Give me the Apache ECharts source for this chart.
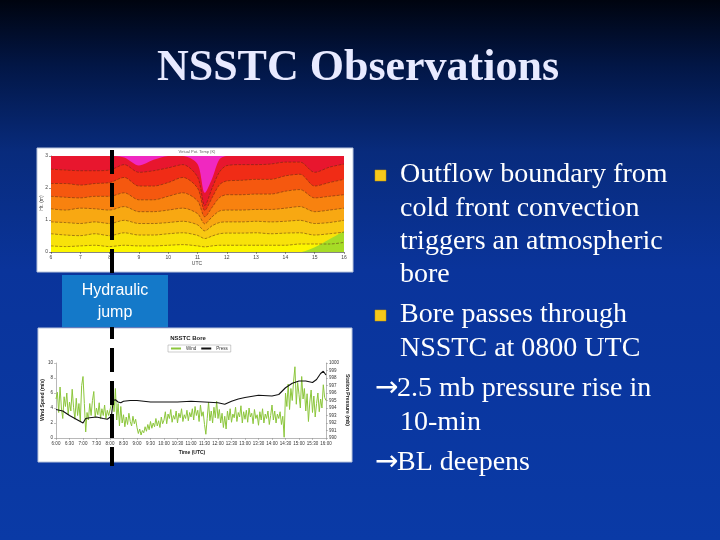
<!DOCTYPE html>
<html><head><meta charset="utf-8">
<script src="https://cdn.jsdelivr.net/npm/echarts@6/dist/echarts.min.js"></script>
<style>html,body{margin:0;padding:0;background:#0a2f85}#c{width:720px;height:540px}</style>
</head><body><div id="c"></div>
<script>
// ---------- Top panel: height-time contour (band boundaries, km) ----------
const contourHours = [6,6.5,7,7.5,8,8.5,9,9.5,10,10.5,11,11.25,11.5,11.75,12,12.5,13,13.5,14,14.5,15,15.5,16];
const contour0 = [3,3,3,3,3,2.95,2.7,2.88,3,3,2.75,1.85,2.3,2.9,3,3,3,3,3,3,3,3,3];
const contour1 = [2.59,2.56,2.54,2.54,2.56,2.73,2.49,2.54,2.63,2.73,2.35,1.45,2.0,2.5,2.70,2.73,2.73,2.75,2.81,2.81,2.49,2.65,2.75];
const contour2 = [2.14,2.14,2.09,2.14,2.17,2.33,2.06,2.06,2.17,2.33,2.0,1.3,1.7,2.1,2.22,2.24,2.27,2.27,2.38,2.43,2.06,2.17,2.27];
const contour3 = [1.74,1.71,1.69,1.74,1.74,1.85,1.63,1.63,1.74,1.85,1.6,1.1,1.4,1.7,1.79,1.79,1.81,1.81,1.90,1.95,1.69,1.74,1.79];
const contour4 = [1.35,1.31,1.37,1.35,1.31,1.42,1.26,1.26,1.31,1.37,1.2,0.88,1.1,1.28,1.31,1.31,1.33,1.33,1.37,1.42,1.26,1.31,1.37];
const contour5 = [0.94,0.92,0.89,0.94,0.89,0.99,0.89,0.89,0.92,0.96,0.85,0.66,0.82,0.92,0.94,0.94,0.96,0.94,0.96,0.99,0.89,0.92,0.99];
const contour6 = [0.57,0.53,0.51,0.57,0.51,0.60,0.53,0.53,0.57,0.60,0.52,0.42,0.50,0.57,0.59,0.59,0.60,0.57,0.59,0.60,0.53,0.57,0.62];
const contour7 = [0.19,0.17,0.19,0.21,0.17,0.21,0.19,0.19,0.21,0.23,0.19,0.16,0.19,0.21,0.21,0.21,0.21,0.21,0.21,0.25,0.25,0.25,0.30];
const contour8 = [0,0,0,0,0,0,0,0,0,0,0,0,0,0,0,0,0,0,0,0,0.15,0.40,0.65];
const contourLines = [contour0,contour1,contour2,contour3,contour4,contour5,contour6,contour7,contour8];
const bandColors = ['#e8162e','#f02c16','#f5580f','#f8820f','#f8a812','#f8c812','#f8e20a','#fcf600','#a6dc26'];
const topColor = '#f028c0';

// ---------- Bottom panel: NSSTC Bore ----------
const windStartHour = 6, windStepMinutes = 3;
const windSpeed = [
 5.2,6.1,3.4,6.8,4.0,2.6,5.5,4.2,6.0,3.1,4.8,3.6,6.5,4.1,2.5,5.3,3.0,4.6,2.2,7.0,
 8.2,4.6,0.8,3.4,2.4,4.6,3.0,5.0,6.2,2.8,4.0,3.1,4.7,2.6,3.9,3.0,4.4,2.6,3.7,3.0,
 3.2,4.5,5.8,3.5,6.6,2.4,4.6,1.6,4.2,2.0,3.1,1.5,2.8,1.8,3.3,2.2,1.6,2.9,1.9,2.5,
 1.4,0.6,1.2,0.4,1.0,0.7,1.5,0.9,1.8,1.1,2.2,1.3,2.0,1.5,2.6,1.6,2.3,1.4,2.8,1.9,
 2.4,3.5,1.9,3.2,2.6,3.8,2.1,3.0,2.5,3.6,2.0,3.3,2.7,3.9,2.2,3.1,2.6,3.7,2.3,3.4,
 2.8,3.9,2.4,4.2,3.0,3.7,2.2,4.4,2.9,3.5,1.8,0.5,2.6,4.8,2.3,3.6,2.0,4.1,2.7,4.9,
 2.6,3.8,2.0,3.3,1.4,2.9,1.2,3.6,2.4,3.9,2.1,3.2,2.7,4.1,2.2,3.4,2.8,4.3,2.0,3.5,
 2.5,3.7,2.1,4.0,2.8,3.3,1.9,3.8,2.6,3.1,1.7,3.5,2.4,3.9,2.0,3.2,2.6,3.6,1.8,3.0,
 4.4,2.4,3.6,2.0,3.2,2.6,3.5,1.8,2.9,0.1,6.0,4.2,7.2,3.8,6.6,5.0,7.6,9.5,4.5,7.4,
 5.8,4.0,8.2,5.2,6.6,3.6,5.9,2.2,4.8,6.4,3.4,5.6,2.8,4.6,6.0,3.5,5.2,4.0,7.1,5.4,
 5.0];
const pressHours = [6.0,6.25,6.5,6.7,6.85,7.0,7.1,7.25,7.5,7.75,7.9,8.05,8.12,8.2,8.3,8.4,8.5,8.75,9.0,9.25,9.5,10.0,10.5,11.0,11.5,12.0,12.25,12.5,12.75,13.0,13.5,14.0,14.25,14.5,14.75,15.0,15.25,15.5,15.65,15.8,15.9,16.0];
const pressValues = [993.8,993.6,993.0,992.6,992.3,992.0,992.6,992.7,992.8,992.6,992.5,992.9,995.0,995.1,994.8,994.7,994.9,995.0,995.0,994.9,994.8,994.8,994.8,994.9,994.8,994.7,994.5,994.9,995.2,995.4,995.7,995.6,995.8,996.7,997.3,997.6,997.6,997.4,997.8,998.6,998.9,998.4];
const windTicks = [0,2,4,6,8,10];
const pressTicks = [990,991,992,993,994,995,996,997,998,999,1000];

const bullets = [
  {text:'Outflow boundary from', y:175, mark:'bullet'},
  {text:'cold front convection', y:209},
  {text:'triggers an atmospheric', y:242},
  {text:'bore', y:275},
  {text:'Bore passes through', y:315, mark:'bullet'},
  {text:'NSSTC at 0800 UTC', y:349},
  {text:'2.5 mb pressure rise in', y:389, mark:'arrow'},
  {text:'10-min', y:423},
  {text:'BL deepens', y:463, mark:'arrow'}
];

const chart = echarts.init(document.getElementById('c'));

const contourSeries = contourLines.map((line, i) => ({
  type:'line', xAxisIndex:0, yAxisIndex:0, silent:true, symbol:'none',
  smooth:0.3, data: contourHours.map((h, j) => [h, line[j]]),
  lineStyle:{color:'#5a2a10', width: i === 0 || i === 8 ? 0 : 0.7, type:'dashed', opacity:0.75},
  areaStyle:{color: bandColors[i], opacity:1, origin:'start'},
  z: 2
}));

const hourFmt = v => { const h = Math.floor(v + 1e-6); const m = Math.round((v - h) * 60); return h + ':' + (m < 10 ? '0' + m : m); };

const graphic = [
  {type:'rect', z:-100, shape:{x:0,y:0,width:720,height:540},
   style:{fill:{type:'linear',x:0,y:0,x2:0,y2:1,colorStops:[
     {offset:0,color:'#00040f'},{offset:0.12,color:'#021645'},{offset:0.28,color:'#082b7c'},
     {offset:0.5,color:'#0a349b'},{offset:1,color:'#0a3aa6'}]}}},
  {type:'rect', z:-5, shape:{x:37,y:148,width:316,height:124}, style:{fill:'#ffffff', stroke:'#b8c4dc', lineWidth:1}},
  {type:'rect', z:-5, shape:{x:38,y:328,width:314,height:134}, style:{fill:'#ffffff', stroke:'#b8c4dc', lineWidth:1}},
  {type:'text', z:10, x:358, y:69, style:{text:'NSSTC Observations', fill:'#e8eaff', font:'bold 44px "Liberation Serif"', textAlign:'center', textVerticalAlign:'middle', shadowColor:'rgba(0,0,0,0.8)', shadowOffsetX:2, shadowOffsetY:2, shadowBlur:2}},
  {type:'text', z:10, x:197, y:152, style:{text:'Virtual Pot. Temp (K)', fill:'#666', font:'4px "Liberation Sans"', textAlign:'center', textVerticalAlign:'middle'}},
  {type:'text', z:10, x:197, y:264, style:{text:'UTC', fill:'#444', font:'5px "Liberation Sans"', textAlign:'center', textVerticalAlign:'middle'}},
  {type:'text', z:10, x:42, y:203, rotation:Math.PI/2, style:{text:'Ht. (m)', fill:'#444', font:'5px "Liberation Sans"', textAlign:'center', textVerticalAlign:'middle'}},
  {type:'text', z:10, x:188, y:338, style:{text:'NSSTC Bore', fill:'#222', font:'bold 6px "Liberation Sans"', textAlign:'center', textVerticalAlign:'middle'}},
  {type:'text', z:10, x:192, y:453, style:{text:'Time (UTC)', fill:'#222', font:'bold 5px "Liberation Sans"', textAlign:'center', textVerticalAlign:'middle'}},
  {type:'text', z:10, x:43, y:400, rotation:Math.PI/2, style:{text:'Wind Speed (m/s)', fill:'#222', font:'bold 5px "Liberation Sans"', textAlign:'center', textVerticalAlign:'middle'}},
  {type:'text', z:10, x:347, y:400, rotation:-Math.PI/2, style:{text:'Station Pressure (mb)', fill:'#222', font:'bold 5px "Liberation Sans"', textAlign:'center', textVerticalAlign:'middle'}},
  {type:'line', z:100, shape:{x1:112,y1:150,x2:112,y2:466}, style:{stroke:'#000', lineWidth:4, lineDash:[24,9]}},
  {type:'rect', z:110, shape:{x:62,y:275,width:106,height:52}, style:{fill:'#1479c9'}},
  {type:'text', z:111, x:115, y:291, style:{text:'Hydraulic', fill:'#fff', font:'16px "Liberation Sans"', textAlign:'center', textVerticalAlign:'middle'}},
  {type:'text', z:111, x:115, y:313, style:{text:'jump', fill:'#fff', font:'16px "Liberation Sans"', textAlign:'center', textVerticalAlign:'middle'}}
];
bullets.forEach(b => {
  graphic.push({type:'text', z:10, x: b.mark === 'arrow' ? 397 : 400, y:b.y, style:{text:b.text, fill:'#ffffff', font:'28px "Liberation Serif"', textVerticalAlign:'middle'}});
  if (b.mark === 'bullet') graphic.push({type:'rect', z:10, shape:{x:375,y:b.y-5,width:11,height:11}, style:{fill:'#f6c81a', stroke:'#c89a00', lineWidth:0.5}});
  if (b.mark === 'arrow') graphic.push({type:'text', z:10, x:375, y:b.y, style:{text:'\u2192', fill:'#ffffff', font:'28px "DejaVu Sans"', textVerticalAlign:'middle'}});
});

chart.setOption({
  animation:false,
  graphic: graphic,
  legend:{data:['Wind','Press'], left:168, top:345, itemWidth:10, itemHeight:2, itemGap:5,
    textStyle:{fontSize:4.5, color:'#333'}, borderColor:'#999', borderWidth:0.5, padding:[1,3], icon:'rect'},
  grid:[
    {left:51, top:156, width:293, height:96, show:true, backgroundColor:topColor, borderWidth:0},
    {left:56, top:363, width:270, height:75, show:false}
  ],
  xAxis:[
    {gridIndex:0, type:'value', min:6, max:16, interval:1,
     axisLine:{lineStyle:{color:'#333', width:0.6}}, axisTick:{length:2, lineStyle:{color:'#333', width:0.5}},
     axisLabel:{fontSize:5, color:'#444', margin:3}, splitLine:{show:false}},
    {gridIndex:1, type:'value', min:6, max:16, interval:0.5,
     axisLine:{lineStyle:{color:'#888', width:0.6}}, axisTick:{length:2, lineStyle:{color:'#888', width:0.5}},
     axisLabel:{fontSize:4.5, color:'#333', margin:3, formatter:hourFmt}, splitLine:{show:false}}
  ],
  yAxis:[
    {gridIndex:0, type:'value', min:0, max:3, interval:1,
     axisLine:{show:true, lineStyle:{color:'#333', width:0.6}}, axisTick:{show:true, length:2, lineStyle:{color:'#333', width:0.5}},
     axisLabel:{fontSize:5, color:'#444', margin:3}, splitLine:{show:false}},
    {gridIndex:1, type:'value', min:windTicks[0], max:windTicks[windTicks.length-1], interval:2,
     axisLine:{show:true, lineStyle:{color:'#888', width:0.6}}, axisTick:{show:true, length:2, lineStyle:{color:'#888', width:0.5}},
     axisLabel:{fontSize:4.5, color:'#333', margin:3}, splitLine:{show:false}},
    {gridIndex:1, type:'value', position:'right', min:pressTicks[0], max:pressTicks[pressTicks.length-1], interval:1,
     axisLine:{show:true, lineStyle:{color:'#888', width:0.6}}, axisTick:{show:true, length:2, lineStyle:{color:'#888', width:0.5}},
     axisLabel:{fontSize:4.5, color:'#333', margin:3, formatter: v => String(v)}, splitLine:{show:false}}
  ],
  series: contourSeries.concat([
    {name:'Wind', type:'line', xAxisIndex:1, yAxisIndex:1, symbol:'none', silent:true,
     data: windSpeed.map((v, i) => [windStartHour + i * windStepMinutes / 60, v]),
     lineStyle:{color:'#8cc63c', width:1}, itemStyle:{color:'#8cc63c'}, z:3},
    {name:'Press', type:'line', xAxisIndex:1, yAxisIndex:2, symbol:'none', silent:true,
     data: pressHours.map((h, i) => [h, pressValues[i]]),
     lineStyle:{color:'#111', width:1.1}, itemStyle:{color:'#111'}, z:4}
  ])
});
</script></body></html>
